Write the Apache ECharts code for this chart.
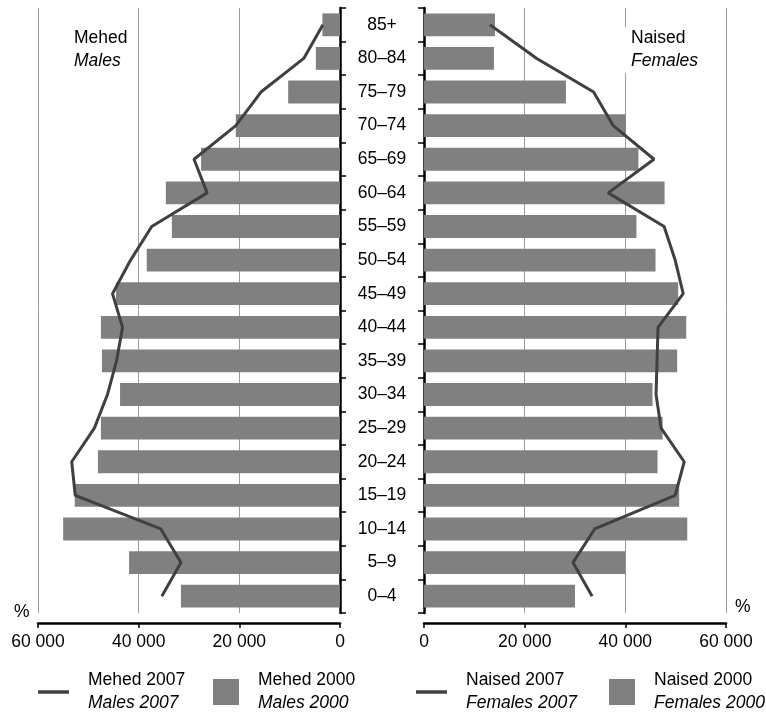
<!DOCTYPE html>
<html><head><meta charset="utf-8">
<script src="https://cdn.jsdelivr.net/npm/echarts@6/dist/echarts.min.js"></script>
<style>html,body{margin:0;padding:0;background:#fff}#c{width:766px;height:715px}</style>
</head><body><div id="c"></div>
<script>
const ageGroups = ['0–4','5–9','10–14','15–19','20–24','25–29','30–34','35–39','40–44','45–49','50–54','55–59','60–64','65–69','70–74','75–79','80–84','85+'];
const males2000 = [31600,41900,55000,52700,48100,47500,43700,47300,47500,44500,38400,33400,34600,27600,20700,10300,4800,3500];
const males2007 = [35400,31600,35600,52600,53300,48800,46200,44400,43200,45200,41600,37400,26400,29000,20700,15700,7200,3400];
const females2000 = [30000,40000,52300,50700,46400,47400,45400,50300,52100,50500,46000,42200,47800,42600,40100,28200,13900,14100];
const females2007 = [33400,29600,33900,49900,51700,47100,46100,46300,46500,51500,49900,47700,36600,45700,37600,33700,22400,13100];
const xTicks = [0,20000,40000,60000];
const subNames = {'Mehed 2007':'Males 2007','Mehed 2000':'Males 2000','Naised 2007':'Females 2007','Naised 2000':'Females 2000'};

const FONT = 'Liberation Sans, Arial, sans-serif';
const FS = 17.5;
const fmt = v => v === 0 ? '0' : (v/1000) + ' 000';
const barColor = '#808080', lineColor = '#404040';

function xAx(grid, inverse){
  return {type:'value', gridIndex:grid, inverse:inverse, min:xTicks[0], max:xTicks[xTicks.length-1], interval:20000,
    position:'bottom', offset:10,
    axisLine:{show:true, lineStyle:{color:'#000', width:2.5}},
    axisTick:{show:true, length:5, lineStyle:{color:'#000', width:1.5}},
    axisLabel:{formatter:fmt, color:'#000', fontSize:FS, fontFamily:FONT, margin:10},
    splitLine:{show:true, lineStyle:{color:'#9a9a9a', width:1}}};
}
function yAx(grid, pos, offset, showLabel){
  return {type:'category', gridIndex:grid, data:ageGroups, position:pos, offset:offset,
    axisLine:{show:true, lineStyle:{color:'#000', width:2.5}},
    axisTick:{show:true, length:6, lineStyle:{color:'#000', width:1.5}},
    axisLabel:{show:showLabel, align:'center', margin:35, color:'#000', fontSize:FS, fontFamily:FONT},
    splitLine:{show:false}};
}
function legendItem(name, left, isLine){
  return {data:[{name:name, icon:'rect'}], left:left, top:669, padding:0, orient:'horizontal',
    itemWidth: isLine ? 31 : 26, itemHeight: isLine ? 3.5 : 26, selectedMode:false,
    itemStyle:{color: isLine ? lineColor : barColor, borderWidth:0},
    lineStyle:{width:0},
    formatter: n => n + '\n{i|' + subNames[n] + '}',
    textStyle:{color:'#000', fontSize:FS, fontFamily:FONT, lineHeight:23, padding:[0,0,0,14],
      rich:{i:{fontStyle:'italic', fontSize:FS, fontFamily:FONT, lineHeight:23, color:'#000'}}}};
}

const chart = echarts.init(document.getElementById('c'));
chart.setOption({
  animation:false,
  backgroundColor:'#fff',
  textStyle:{fontFamily:FONT},
  grid:[
    {left:38, width:302, top:8, height:605},
    {left:424, width:302, top:8, height:605}
  ],
  xAxis:[xAx(0,true), xAx(1,false)],
  yAxis:[yAx(0,'right',7,true), yAx(1,'left',6,false)],
  title:[
    {text:'Mehed\n{i|Males}', left:66, top:27, padding:[0,8], backgroundColor:'#fff',
      textStyle:{fontWeight:'normal', color:'#000', fontSize:FS, fontFamily:FONT, lineHeight:23,
        rich:{i:{fontStyle:'italic', fontSize:FS, fontFamily:FONT, lineHeight:23, color:'#000'}}}},
    {text:'Naised\n{i|Females}', left:623, top:27, padding:[0,8], backgroundColor:'#fff',
      textStyle:{fontWeight:'normal', color:'#000', fontSize:FS, fontFamily:FONT, lineHeight:23,
        rich:{i:{fontStyle:'italic', fontSize:FS, fontFamily:FONT, lineHeight:23, color:'#000'}}}}
  ],
  legend:[
    legendItem('Mehed 2007', 38, true),
    legendItem('Mehed 2000', 213, false),
    legendItem('Naised 2007', 416, true),
    legendItem('Naised 2000', 609, false)
  ],
  graphic:[
    {type:'text', left:14, top:603, style:{text:'%', fontSize:FS, fontFamily:FONT, fill:'#000'}},
    {type:'text', left:735, top:598, style:{text:'%', fontSize:FS, fontFamily:FONT, fill:'#000'}}
  ],
  series:[
    {name:'Mehed 2000', type:'bar', xAxisIndex:0, yAxisIndex:0, data:males2000, barCategoryGap:'32%',
      itemStyle:{color:barColor}, z:2},
    {name:'Mehed 2007', type:'line', xAxisIndex:0, yAxisIndex:0, data:males2007, symbol:'none',
      lineStyle:{color:lineColor, width:3}, itemStyle:{color:lineColor}, z:3},
    {name:'Naised 2000', type:'bar', xAxisIndex:1, yAxisIndex:1, data:females2000, barCategoryGap:'32%',
      itemStyle:{color:barColor}, z:2},
    {name:'Naised 2007', type:'line', xAxisIndex:1, yAxisIndex:1, data:females2007, symbol:'none',
      lineStyle:{color:lineColor, width:3}, itemStyle:{color:lineColor}, z:3}
  ]
});
</script></body></html>
